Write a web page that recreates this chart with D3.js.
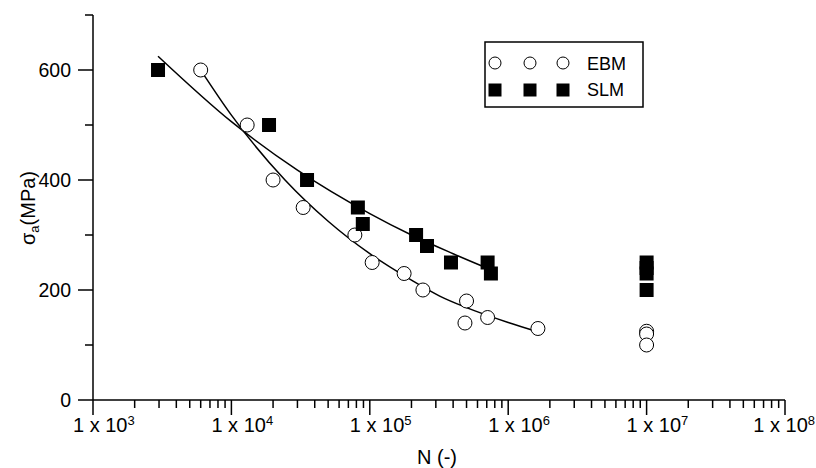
<!DOCTYPE html>
<html>
<head>
<meta charset="utf-8">
<script src="https://cdn.jsdelivr.net/npm/d3@7"></script>
<style>
    body { margin: 0; background: #fff; }
    svg { display: block; font-family: "Liberation Sans", Arial, sans-serif; }
</style>
</head>
<body>
<svg id="chart" width="816" height="468"></svg>
<script>
// EBM specimens (open circles)
const ebmN = [6.0e3, 1.3e4, 2.0e4, 3.3e4, 7.8e4, 1.04e5, 1.77e5, 2.42e5, 5.0e5, 4.87e5, 7.1e5, 1.64e6, 1e7, 1e7, 1e7];
const ebmS = [600, 500, 400, 350, 300, 250, 230, 200, 180, 140, 150, 130, 125, 120, 100];

// SLM specimens (filled squares)
const slmN = [2.95e3, 1.87e4, 3.52e4, 8.2e4, 8.9e4, 2.16e5, 2.59e5, 3.86e5, 7.1e5, 7.5e5, 1e7, 1e7, 1e7, 1e7];
const slmS = [600, 500, 400, 350, 320, 300, 280, 250, 250, 230, 250, 240, 230, 200];

// fitted curves
const ebmFitN = [6.0e3, 1e4, 2.44e4, 5e4, 1e5, 2e5, 3.2e5, 5e5, 1e6, 1.64e6];
const ebmFitS = [600, 518, 400, 325, 266, 218, 189, 168, 141, 124];
const slmFitN = [2.95e3, 1e4, 3e4, 1e5, 2e5, 4e5, 7.0e5];
const slmFitS = [625, 506, 418, 339, 300, 266, 240];

// axis ticks
const xMajor = [1e3, 1e4, 1e5, 1e6, 1e7, 1e8];
const xExp = ['3', '4', '5', '6', '7', '8'];
const yMajor = [0, 200, 400, 600];
const yMinor = [100, 300, 500, 700];

const legendNames = ['EBM', 'SLM'];

const svg = d3.select('#chart');

const x = d3.scaleLog().domain([1e3, 1e8]).range([93, 785]);
const y = d3.scaleLinear().domain([0, 700]).range([400, 15]);

// minor x ticks: 2..9 in every decade
const xMinor = [];
for (let d = 0; d < xMajor.length - 1; d++) {
    for (let k = 2; k <= 9; k++) xMinor.push(xMajor[d] * k);
}

const axes = svg.append('g').attr('stroke', '#000').attr('stroke-width', 1.5);

// y axis line + ticks
axes.append('line')
    .attr('x1', 93).attr('x2', 93)
    .attr('y1', y(700)).attr('y2', y(0));
axes.selectAll('.ymaj').data(yMajor).enter().append('line')
    .attr('x1', 78).attr('x2', 93)
    .attr('y1', d => y(d)).attr('y2', d => y(d));
axes.selectAll('.ymin').data(yMinor).enter().append('line')
    .attr('x1', 85).attr('x2', 93)
    .attr('y1', d => y(d)).attr('y2', d => y(d));

// x axis line + ticks
axes.append('line')
    .attr('x1', x(1e3)).attr('x2', x(1e8))
    .attr('y1', 400).attr('y2', 400);
axes.selectAll('.xmaj').data(xMajor).enter().append('line')
    .attr('x1', d => x(d)).attr('x2', d => x(d))
    .attr('y1', 400).attr('y2', 415);
axes.selectAll('.xmin').data(xMinor).enter().append('line')
    .attr('x1', d => x(d)).attr('x2', d => x(d))
    .attr('y1', 400).attr('y2', 408);

// y tick labels
svg.append('g').selectAll('text').data(yMajor).enter().append('text')
    .attr('x', 71)
    .attr('y', d => y(d))
    .attr('dy', '0.36em')
    .attr('text-anchor', 'end')
    .style('font-size', '19.5px')
    .text(d => d);

// x tick labels "1 x 10^n" (last one kept inside the picture)
const last = xMajor.length - 1;
const xl = svg.append('g').selectAll('text').data(xMajor).enter().append('text')
    .attr('x', (d, i) => i === last ? 815 : x(d) - 20)
    .attr('y', 432)
    .attr('text-anchor', (d, i) => i === last ? 'end' : 'start')
    .style('font-size', '20px');
xl.append('tspan').text('1 x 10');
xl.append('tspan')
    .attr('dy', -7)
    .style('font-size', '13px')
    .text((d, i) => xExp[i]);

// axis titles
svg.append('text')
    .attr('x', 437).attr('y', 464)
    .attr('text-anchor', 'middle')
    .style('font-size', '20px')
    .text('N (-)');

const yt = svg.append('text')
    .attr('transform', 'translate(35,208) rotate(-90)')
    .attr('text-anchor', 'middle')
    .style('font-size', '20px');
yt.append('tspan').text('σ');
yt.append('tspan').attr('dy', 4).style('font-size', '13px').text('a');
yt.append('tspan').attr('dy', -4).text('(MPa)');

// fitted curves
const line = d3.line()
    .x(d => x(d[0]))
    .y(d => y(d[1]))
    .curve(d3.curveMonotoneX);

const curves = svg.append('g')
    .attr('fill', 'none')
    .attr('stroke', '#000')
    .attr('stroke-width', 1.5);
curves.append('path').attr('d', line(d3.zip(ebmFitN, ebmFitS)));
curves.append('path').attr('d', line(d3.zip(slmFitN, slmFitS)));

// markers
svg.append('g').selectAll('circle').data(d3.zip(ebmN, ebmS)).enter().append('circle')
    .attr('cx', d => x(d[0]))
    .attr('cy', d => y(d[1]))
    .attr('r', 7)
    .attr('fill', '#fff')
    .attr('stroke', '#000')
    .attr('stroke-width', 1);

const sq = 14;
svg.append('g').selectAll('rect').data(d3.zip(slmN, slmS)).enter().append('rect')
    .attr('x', d => x(d[0]) - sq / 2)
    .attr('y', d => y(d[1]) - sq / 2)
    .attr('width', sq)
    .attr('height', sq)
    .attr('fill', '#000');

// legend
const legend = svg.append('g');
legend.append('rect')
    .attr('x', 485).attr('y', 42)
    .attr('width', 158).attr('height', 65)
    .attr('fill', '#fff')
    .attr('stroke', '#000')
    .attr('stroke-width', 1.5);

const legX = [495, 530, 563];
legend.selectAll('.lc').data(legX).enter().append('circle')
    .attr('cx', d => d).attr('cy', 63)
    .attr('r', 6)
    .attr('fill', '#fff')
    .attr('stroke', '#000')
    .attr('stroke-width', 1);
legend.selectAll('.ls').data(legX).enter().append('rect')
    .attr('x', d => d - 6.5).attr('y', 83.5)
    .attr('width', 13).attr('height', 13)
    .attr('fill', '#000');
legend.selectAll('text').data(legendNames).enter().append('text')
    .attr('x', 587)
    .attr('y', (d, i) => 70 + i * 26)
    .style('font-size', '18px')
    .text(d => d);
</script>
</body>
</html>
